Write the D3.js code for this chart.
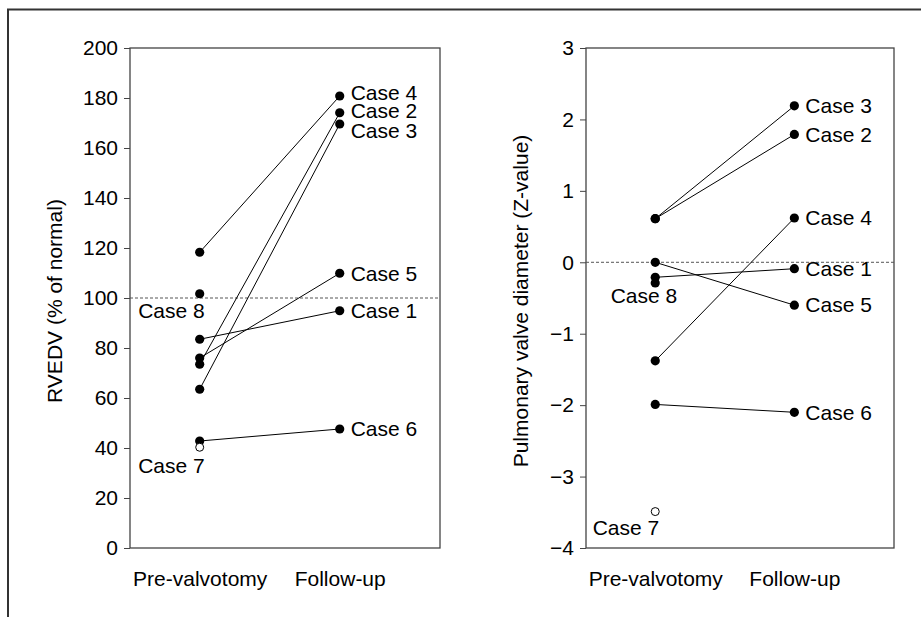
<!DOCTYPE html>
<html>
<head>
<meta charset="utf-8">
<script src="https://cdn.jsdelivr.net/npm/d3@7"></script>
<style>
  body { margin: 0; background: #fff; }
  svg { font-family: "Liberation Sans", Arial, sans-serif; }
</style>
</head>
<body>
<div id="chart"></div>
<script>
// Data
const cases = ["Case 1", "Case 2", "Case 3", "Case 4", "Case 5", "Case 6", "Case 7", "Case 8"];
const periods = ["Pre-valvotomy", "Follow-up"];
const rvedvPre = [83.5, 73.5, 63.5, 118.3, 76, 42.8, 40.3, 101.7];
const rvedvFollow = [94.9, 174.1, 169.6, 180.8, 109.9, 47.6, null, null];
const zPre = [-0.21, 0.61, 0.61, -1.38, 0, -1.99, -3.49, -0.29];
const zFollow = [-0.09, 1.79, 2.19, 0.62, -0.6, -2.1, null, null];
const openCases = ["Case 7"];
const rvedvTicks = d3.range(0, 201, 20);
const zTicks = d3.range(-4, 4, 1);

const W = 921, H = 617;
const svg = d3.select("#chart").append("svg")
    .attr("width", W).attr("height", H);

// outer frame (top and left edges only)
svg.append("path")
    .attr("d", `M8,${H} V9.5 H${W}`)
    .attr("fill", "none")
    .attr("stroke", "#333")
    .attr("stroke-width", 2);

function panel(opts) {
    const w = opts.width, h = 500;
    const g = svg.append("g").attr("transform", `translate(${opts.left},48)`);

    const x = d3.scalePoint().domain(periods).range([0, w]).padding(0.607).align(0.41);
    const y = d3.scaleLinear().domain(opts.domain).range([h, 0]);

    // box
    g.append("rect")
        .attr("width", w).attr("height", h)
        .attr("fill", "none")
        .attr("stroke", "#444")
        .attr("stroke-width", 1.3);

    // y axis
    const ya = g.append("g")
        .call(d3.axisLeft(y).tickValues(opts.ticks).tickFormat(d3.format("d")).tickSize(6).tickPadding(6));
    ya.select(".domain").remove();
    ya.selectAll("line").attr("stroke", "#444");
    ya.selectAll("text").style("font-size", "21px").attr("fill", "#000");

    // x axis (category labels)
    const xa = g.append("g")
        .attr("transform", `translate(0,${h})`)
        .call(d3.axisBottom(x).tickSize(0).tickPadding(23));
    xa.select(".domain").remove();
    xa.selectAll("text").style("font-size", "21px").attr("fill", "#000");

    // y title
    g.append("text")
        .attr("transform", `translate(${opts.titleX},${h / 2 + 3}) rotate(-90)`)
        .attr("text-anchor", "middle")
        .style("font-size", "21px")
        .attr("fill", "#000")
        .text(opts.title);

    // reference line
    g.append("line")
        .attr("x1", 0).attr("x2", w)
        .attr("y1", y(opts.ref)).attr("y2", y(opts.ref))
        .attr("stroke", "#555")
        .attr("stroke-width", 1)
        .attr("stroke-dasharray", "3,2");

    const rows = cases.map((c, i) => ({ name: c, pre: opts.pre[i], post: opts.post[i] }));

    // connecting lines
    g.selectAll(".link")
        .data(rows.filter(d => d.post != null))
        .enter().append("line")
        .attr("class", "link")
        .attr("x1", x(periods[0])).attr("y1", d => y(d.pre))
        .attr("x2", x(periods[1])).attr("y2", d => y(d.post))
        .attr("stroke", "#000").attr("stroke-width", 1);

    // pre points
    g.selectAll(".pre")
        .data(rows)
        .enter().append("circle")
        .attr("class", "pre")
        .attr("cx", x(periods[0])).attr("cy", d => y(d.pre))
        .attr("r", d => openCases.includes(d.name) ? 4 : 4.6)
        .attr("fill", d => openCases.includes(d.name) ? "#fff" : "#000")
        .attr("stroke", "#000").attr("stroke-width", d => openCases.includes(d.name) ? 1 : 0);

    // follow-up points
    g.selectAll(".post")
        .data(rows.filter(d => d.post != null))
        .enter().append("circle")
        .attr("class", "post")
        .attr("cx", x(periods[1])).attr("cy", d => y(d.post))
        .attr("r", 4.6).attr("fill", "#000");

    // follow-up labels
    g.selectAll(".lab")
        .data(rows.filter(d => d.post != null))
        .enter().append("text")
        .attr("class", "lab")
        .attr("x", x(periods[1]) + 11)
        .attr("y", d => y(d.post) + (opts.nudge[d.name] || 0))
        .attr("dy", "0.35em")
        .style("font-size", "21px")
        .attr("fill", "#000")
        .text(d => d.name);

    // labels for cases without follow-up
    g.selectAll(".note")
        .data(rows.filter(d => d.post == null))
        .enter().append("text")
        .attr("class", "note")
        .attr("text-anchor", "end")
        .attr("x", d => x(periods[0]) + opts.notes[d.name][0])
        .attr("y", d => y(d.pre) + opts.notes[d.name][1])
        .style("font-size", "21px")
        .attr("fill", "#000")
        .text(d => d.name);
}

panel({
    left: 130, width: 310,
    domain: [0, 200], ticks: rvedvTicks, ref: 100,
    pre: rvedvPre, post: rvedvFollow,
    title: "RVEDV (% of normal)", titleX: -68,
    nudge: { "Case 4": -3.5, "Case 2": -2, "Case 3": 7 },
    notes: { "Case 7": [5, 26], "Case 8": [5, 24] }
});

panel({
    left: 586, width: 308,
    domain: [-4, 3], ticks: zTicks, ref: 0,
    pre: zPre, post: zFollow,
    title: "Pulmonary valve diameter (Z-value)", titleX: -58,
    nudge: {},
    notes: { "Case 7": [4, 23], "Case 8": [22, 20] }
});
</script>
</body>
</html>
